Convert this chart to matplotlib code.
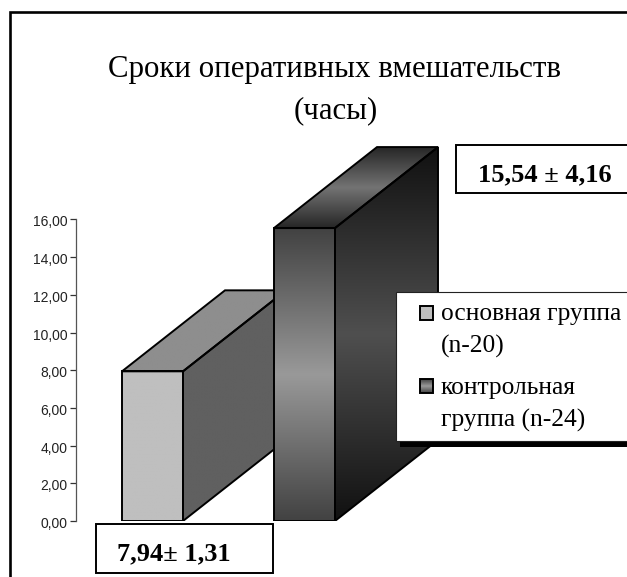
import numpy as np
import matplotlib
matplotlib.use("Agg")
import matplotlib.pyplot as plt
from matplotlib.patches import Polygon, Rectangle
from matplotlib.colors import LinearSegmentedColormap
from matplotlib.transforms import ScaledTranslation

# Chart data
title_lines = ["Сроки оперативных вмешательств", "(часы)"]
group_names = ["основная группа\n(n-20)", "контрольная\nгруппа (n-24)"]
group_means = [7.94, 15.54]
value_notes = ["7,94± 1,31", "15,54 ± 4,16"]
tick_values = [0, 2, 4, 6, 8, 10, 12, 14, 16]
tick_labels = ["0,00", "2,00", "4,00", "6,00", "8,00", "10,00", "12,00", "14,00", "16,00"]

W, H = 627, 577
SERIF = "Liberation Serif"
SANS = "Liberation Sans"

fig = plt.figure(figsize=(W / 100, H / 100), dpi=100, facecolor="white")

# Overlay in pixel coordinates for frame, boxes and legend
page = fig.add_axes([0, 0, 1, 1], zorder=3)
page.set_xlim(0, W)
page.set_ylim(H, 0)
page.axis("off")
page.patch.set_alpha(0)

# Plot axes: x in pixels from the axis line, y in hours
Y0, PX_PER_UNIT = 521.0, 18.85
AX_TOP = 130.0
X_AXIS = 76.0
ax = fig.add_axes([X_AXIS / W, 1 - Y0 / H, (W - X_AXIS) / W, (Y0 - AX_TOP) / H], zorder=1)
ax.set_xlim(X_AXIS, W)
ax.set_ylim(0, (Y0 - AX_TOP) / PX_PER_UNIT)
ax.patch.set_alpha(0)
for s in ("top", "right", "bottom"):
    ax.spines[s].set_visible(False)
ax.spines["left"].set_bounds(0, 16)
ax.spines["left"].set_color("#555555")
ax.spines["left"].set_linewidth(0.9)
ax.set_xticks([])
ax.set_yticks(tick_values)
ax.set_yticklabels(tick_labels, fontsize=10, family=SANS, color="#222222")
ax.tick_params(axis="y", length=4.5, width=0.9, color="#333333", pad=1.5)
label_shift = ScaledTranslation(0, -1.5 / 100, fig.dpi_scale_trans)
for lab in ax.get_yticklabels():
    lab.set_transform(lab.get_transform() + label_shift)

DX, DY = 103.0, 81.0 / PX_PER_UNIT
BAR_W = 61.0


def grad_poly(pts, stops, z):
    """Fill a polygon with a vertical gradient; stops run from bottom to top."""
    pts = np.array(pts)
    cmap = LinearSegmentedColormap.from_list("g", stops)
    xs, ys = pts[:, 0], pts[:, 1]
    im = ax.imshow(np.linspace(0, 1, 256)[:, None], cmap=cmap, origin="lower", aspect="auto",
                   extent=(xs.min(), xs.max(), ys.min(), ys.max()), zorder=z, vmin=0, vmax=1,
                   interpolation="bilinear")
    poly = Polygon(pts, closed=True, facecolor="none", edgecolor="black", linewidth=1.4, zorder=z + 0.1)
    ax.add_patch(poly)
    im.set_clip_path(poly)


def box3d(x, v, front, side, roof, z):
    grad_poly([(x + BAR_W, 0), (x + BAR_W + DX, DY), (x + BAR_W + DX, v + DY), (x + BAR_W, v)], side, z)
    grad_poly([(x, v), (x + BAR_W, v), (x + BAR_W + DX, v + DY), (x + DX, v + DY)], roof, z)
    grad_poly([(x, 0), (x + BAR_W, 0), (x + BAR_W, v), (x, v)], front, z)


box3d(122.0, group_means[0], ["#bfbfbf", "#bfbfbf"], ["#606060", "#606060"], ["#8e8e8e", "#8e8e8e"], 2)
box3d(274.0, group_means[1],
      ["#424242", "#999999", "#424242"],
      ["#111111", "#4f4f4f", "#111111"],
      ["#262626", "#737373", "#262626"], 3)
ax.set_xlim(X_AXIS, W)
ax.set_ylim(0, (Y0 - AX_TOP) / PX_PER_UNIT)

# Outer frame, open at the bottom and right
page.plot([10, 10, W], [H, 11.5, 11.5], color="black", lw=1.9, solid_joinstyle="miter")

# Title
page.text(334.5, 77, title_lines[0], family=SERIF, fontsize=22.2, ha="center", va="baseline", color="black")
page.text(336, 118, title_lines[1], family=SERIF, fontsize=22.2, ha="center", va="baseline", color="black")

# Value notes
page.add_patch(Rectangle((96, 524), 177, 49, facecolor="white", edgecolor="black", lw=1.4))
page.add_patch(Rectangle((456, 145), 175, 48, facecolor="white", edgecolor="black", lw=1.4))
page.text(174, 560, value_notes[0], family=SERIF, weight="bold", fontsize=19, ha="center", va="baseline")
page.text(544.5, 181.5, value_notes[1], family=SERIF, weight="bold", fontsize=19, ha="center", va="baseline")

# Legend with its drop shadow
page.add_patch(Rectangle((400, 300), 240, 147, facecolor="black", edgecolor="none"))
page.add_patch(Rectangle((396, 292), 240, 149, facecolor="white", edgecolor="#222222", lw=0.8))
line_y = [(320, 353), (394, 427)]
box_y = [306, 379]
swatch_stops = [["#bfbfbf", "#bfbfbf"], ["#424242", "#999999", "#424242"]]
for name, ys, by, stops in zip(group_names, line_y, box_y, swatch_stops):
    cmap = LinearSegmentedColormap.from_list("s", stops)
    swatch = Rectangle((420, by), 13, 14, facecolor="none", edgecolor="black", lw=1.4, zorder=5)
    page.add_patch(swatch)
    im = page.imshow(np.linspace(0, 1, 64)[:, None], cmap=cmap, aspect="auto", vmin=0, vmax=1,
                     extent=(420, 433, by + 14, by), zorder=4)
    for line, y in zip(name.split("\n"), ys):
        page.text(441, y, line, family=SERIF, fontsize=18.4, ha="left", va="baseline", color="black", zorder=6)
page.set_xlim(0, W)
page.set_ylim(H, 0)

fig.savefig("out.png", dpi=100)
